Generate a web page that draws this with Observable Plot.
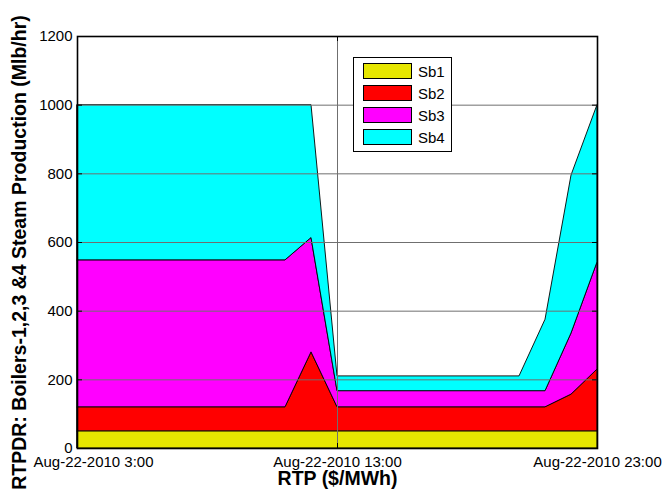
<!DOCTYPE html>
<html>
<head>
<meta charset="utf-8">
<script src="https://cdn.jsdelivr.net/npm/d3@7"></script>
<script src="https://cdn.jsdelivr.net/npm/@observablehq/plot@0.6"></script>
<style>
  html, body { margin: 0; padding: 0; background: #fff; }
  #wrap { position: relative; width: 665px; height: 496px; font-family: "Liberation Sans", Arial, sans-serif; }
  #legend { position: absolute; left: 353px; top: 57px; width: 99px; height: 95px; border: 1px solid #000; background: #fff; box-sizing: border-box; }
  .row { position: absolute; left: 9px; height: 16px; display: flex; align-items: center; }
  .sw { width: 49px; height: 16px; box-sizing: border-box; border: 1px solid #000; margin-right: 6px; }
  .lab { font-size: 15px; color: #000; }
</style>
</head>
<body>
<div id="wrap"></div>
<script>
// ---- data ----
const hours = [3,4,5,6,7,8,9,10,11,12,13,14,15,16,17,18,19,20,21,22,23];
const seriesNames = ["Sb1", "Sb2", "Sb3", "Sb4"];
const seriesColors = ["#e6e600", "#ff0000", "#ff00ff", "#00ffff"];
const sb1 = [50,50,50,50,50,50,50,50,50,50,50,50,50,50,50,50,50,50,50,50,50];
const sb2 = [70,70,70,70,70,70,70,70,70,230,70,70,70,70,70,70,70,70,70,107,180];
const sb3 = [428,428,428,428,428,428,428,428,428,333,47,47,47,47,47,47,47,47,47,178,312];
const sb4 = [452,452,452,452,452,452,452,452,452,387,43,43,43,43,43,43,43,43,208,460,458];
const xTicks = [3, 13, 23];
const xTickLabels = ["Aug-22-2010 3:00", "Aug-22-2010 13:00", "Aug-22-2010 23:00"];
const yTicks = [0, 200, 400, 600, 800, 1000, 1200];
const xLabel = "RTP ($/MWh)";
const yLabel = "RTPDR: Boilers-1,2,3 &4 Steam Production (Mlb/hr)";

// ---- table ----
const allSeries = [sb1, sb2, sb3, sb4];
const rows = [];
seriesNames.forEach((name, s) => {
  hours.forEach((h, i) => rows.push({series: name, hour: h, value: allSeries[s][i]}));
});

const W = 665, H = 496, mL = 77, mR = 68, mT = 36, mB = 48;
const pw = W - mL - mR, ph = H - mT - mB;
const tickLen = 5;
const fmtX = d => xTickLabels[xTicks.indexOf(d)];

const chart = Plot.plot({
  width: W, height: H,
  marginLeft: mL, marginRight: mR, marginTop: mT, marginBottom: mB,
  style: {fontFamily: '"Liberation Sans", Arial, sans-serif', fontSize: "15px", color: "#000", background: "#fff", overflow: "visible"},
  x: {domain: [3, 23]},
  y: {domain: [0, 1200]},
  color: {domain: seriesNames, range: seriesColors},
  marks: [
    Plot.areaY(rows, {x: "hour", y: "value", z: "series", fill: "series", stroke: "#000", strokeWidth: 0.9, fillOpacity: 1}),
    Plot.gridY(yTicks, {stroke: "#6f6f6f", strokeOpacity: 1, strokeWidth: 1}),
    Plot.gridX(xTicks, {stroke: "#6f6f6f", strokeOpacity: 1, strokeWidth: 1}),
    // inward ticks (MATLAB-style)
    Plot.ruleY(yTicks, {y: d => d, insetRight: pw - tickLen, stroke: "#000"}),
    Plot.ruleY(yTicks, {y: d => d, insetLeft: pw - tickLen, stroke: "#000"}),
    Plot.ruleX(xTicks, {x: d => d, insetTop: ph - tickLen, stroke: "#000"}),
    Plot.ruleX(xTicks, {x: d => d, insetBottom: ph - tickLen, stroke: "#000"}),
    Plot.frame({stroke: "#000", strokeWidth: 1.6}),
    Plot.axisY(yTicks, {tickSize: 0, tickPadding: 5, label: null, fontSize: 15, tickFormat: d => String(d)}),
    Plot.axisX(xTicks.slice(0, 1), {tickSize: 0, tickPadding: 8, label: null, fontSize: 15, dx: 16, tickFormat: fmtX}),
    Plot.axisX(xTicks.slice(1), {tickSize: 0, tickPadding: 8, label: null, fontSize: 15, tickFormat: fmtX}),
    Plot.text([xLabel], {text: d => d, frameAnchor: "bottom", textAnchor: "middle", dy: 30, lineAnchor: "middle",
      fontSize: 19.5, fontWeight: "bold", fill: "#000"}),
    Plot.text([yLabel], {text: d => d, frameAnchor: "left", textAnchor: "middle", dx: -58, dy: 10, rotate: -90, lineAnchor: "middle",
      fontSize: 19.5, fontWeight: "bold", fill: "#000"})
  ]
});

const wrap = document.getElementById("wrap");
wrap.appendChild(chart);

// ---- legend (inside the axes, like MATLAB) ----
const legend = document.createElement("div");
legend.id = "legend";
seriesNames.forEach((name, i) => {
  const row = document.createElement("div");
  row.className = "row";
  row.style.top = (5 + i * 22) + "px";
  const sw = document.createElement("div");
  sw.className = "sw";
  sw.style.background = seriesColors[i];
  const lab = document.createElement("span");
  lab.className = "lab";
  lab.textContent = name;
  row.appendChild(sw);
  row.appendChild(lab);
  legend.appendChild(row);
});
wrap.appendChild(legend);
</script>
</body>
</html>
